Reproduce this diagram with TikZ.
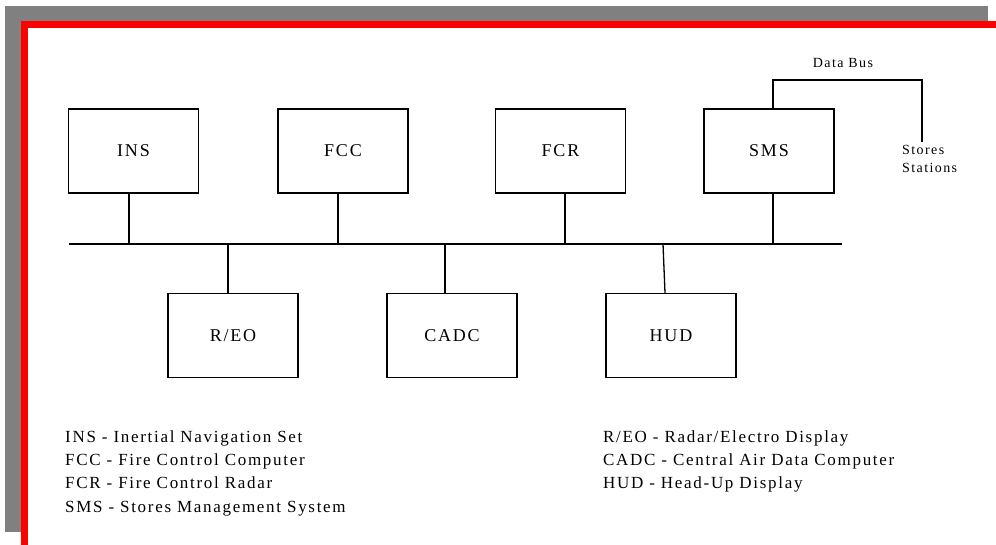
\documentclass[tikz,border=0pt]{standalone}
\usepackage{fontspec}
\setmainfont{Liberation Serif}[LetterSpace=10]
\usepackage{xcolor}
\usepackage{tikz}
\usetikzlibrary{positioning, calc}

\definecolor{shadowgray}{RGB}{128,128,128}

\begin{document}
\begin{tikzpicture}[
    x=1pt, y=-1pt,
    box/.style={rectangle, draw, line width=1.3pt, minimum width=130pt, minimum height=84pt, inner sep=0pt, font=\fontsize{18}{20}\selectfont},
    link/.style={line width=1.3pt},
    lbl/.style={font=\fontsize{14}{16}\selectfont, inner sep=0pt},
    legend/.style={font=\fontsize{17}{19}\selectfont, anchor=base west, inner sep=0pt}
]
\useasboundingbox (0,0) rectangle (996,545);

% Frame
\fill[shadowgray] (5,6) rectangle (988,532);
\draw[red, line width=7pt, fill=white] (24.5,24.5) rectangle (1012,560);

% Units on the bus
\node[box] (ins) at (133.5,151) {INS};
\node[box] (fcc) at (343,151) {FCC};
\node[box] (fcr) at (560.5,151) {FCR};
\node[box] (sms) at (769,151) {SMS};
\node[box] (reo) at (233,335.5) {R/EO};
\node[box] (cadc) at (452,335.5) {CADC};
\node[box] (hud) at (671,335.5) {HUD};

% Bus line
\coordinate (busL) at (69,244);
\coordinate (busR) at (842,244);
\draw[link] (busL) -- (busR);

% Stems
\coordinate (insT) at ([xshift=-4.5]ins.south);
\coordinate (fccT) at ([xshift=-5]fcc.south);
\coordinate (fcrT) at ([xshift=4.5]fcr.south);
\coordinate (smsT) at ([xshift=4]sms.south);
\coordinate (reoT) at ([xshift=-5]reo.north);
\coordinate (cadcT) at ([xshift=-7]cadc.north);
\coordinate (hudT) at ([xshift=-6]hud.north);
\foreach \s in {insT, fccT, fcrT, smsT, reoT, cadcT} {
    \draw[link] (\s) -- (\s |- busL);
}
\draw[link] (hudT) -- ([xshift=-2]hudT |- busL);

% Stores data bus
\coordinate (dbTop) at ([xshift=4]sms.north |- 0,80);
\node[lbl] (dbus) at (843,63) {Data Bus};
\node[lbl, align=left, anchor=north west] (stores) at (902,145) {Stores\\[2pt]Stations};
\draw[link] ([xshift=4]sms.north) -- (dbTop) -| (922,142);

% Legend
\node[legend] (l1) at (65,442) {INS - Inertial Navigation Set};
\node[legend] (l2) at (65,465) {FCC - Fire Control Computer};
\node[legend] (l3) at (65,488) {FCR - Fire Control Radar};
\node[legend] (l4) at (65,512) {SMS - Stores Management System};
\node[legend] (r1) at (603,442) {R/EO - Radar/Electro Display};
\node[legend] (r2) at (603,465) {CADC - Central Air Data Computer};
\node[legend] (r3) at (603,488) {HUD - Head-Up Display};
\end{tikzpicture}
\end{document}
